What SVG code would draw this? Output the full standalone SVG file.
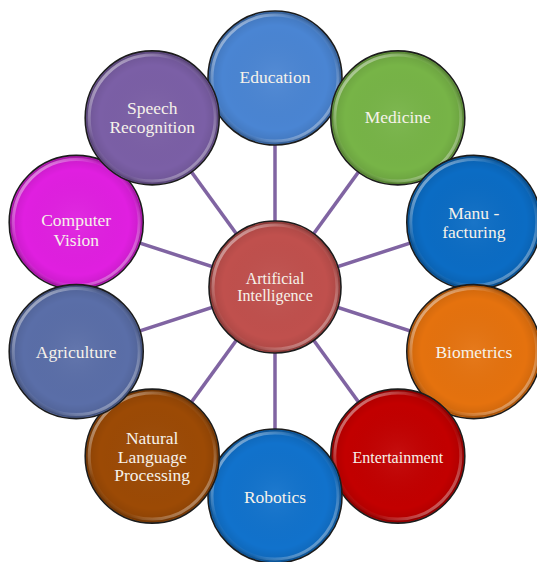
<svg xmlns="http://www.w3.org/2000/svg" width="537" height="562" viewBox="0 0 537 562">
<defs>
<radialGradient id="shade" cx="50%" cy="50%" r="50%">
<stop offset="0" stop-color="#fff" stop-opacity="0.06"/>
<stop offset="0.8" stop-color="#000" stop-opacity="0"/>
<stop offset="0.94" stop-color="#000" stop-opacity="0.08"/>
<stop offset="1" stop-color="#000" stop-opacity="0.3"/>
</radialGradient>
<linearGradient id="hl" x1="0" y1="0" x2="1" y2="1">
<stop offset="0" stop-color="#fff" stop-opacity="0.7"/>
<stop offset="0.35" stop-color="#fff" stop-opacity="0.04"/>
<stop offset="0.65" stop-color="#fff" stop-opacity="0.04"/>
<stop offset="1" stop-color="#fff" stop-opacity="0.55"/>
</linearGradient>
</defs>
<style>
.edge{stroke:#8064a2;stroke-width:3.5;fill:none}
.base{stroke:#1c1c1c;stroke-width:1.6}
.shade{fill:url(#shade)}
.hl{fill:none;stroke:url(#hl);stroke-width:3}
text{font-family:"Liberation Serif","Times New Roman",serif;font-size:17.5px;fill:#f6f2ea;text-anchor:middle}
</style>
<g id="connectors">
<line class="edge" x1="275" y1="287" x2="275" y2="78"/>
<line class="edge" x1="275" y1="287" x2="397.8" y2="117.9"/>
<line class="edge" x1="275" y1="287" x2="473.8" y2="222.4"/>
<line class="edge" x1="275" y1="287" x2="473.8" y2="351.6"/>
<line class="edge" x1="275" y1="287" x2="397.8" y2="456.1"/>
<line class="edge" x1="275" y1="287" x2="275" y2="496"/>
<line class="edge" x1="275" y1="287" x2="152.2" y2="456.1"/>
<line class="edge" x1="275" y1="287" x2="76.2" y2="351.6"/>
<line class="edge" x1="275" y1="287" x2="76.2" y2="222.4"/>
<line class="edge" x1="275" y1="287" x2="152.2" y2="117.9"/>
</g>
<g id="computer-vision" transform="translate(76.2,222.4)">
<circle class="base" r="67" fill="#e01fe0"/><circle class="shade" r="66"/><circle class="hl" r="63"/>
<text x="0" y="4">Computer</text><text x="0" y="24">Vision</text>
</g>
<g id="education" transform="translate(275,78)">
<circle class="base" r="67" fill="#4a85d3"/><circle class="shade" r="66"/><circle class="hl" r="63"/>
<text x="0" y="5">Education</text>
</g>
<g id="medicine" transform="translate(397.8,117.9)">
<circle class="base" r="67" fill="#77b447"/><circle class="shade" r="66"/><circle class="hl" r="63"/>
<text x="0" y="5">Medicine</text>
</g>
<g id="manufacturing" transform="translate(473.8,222.4)">
<circle class="base" r="67" fill="#0b6cc4"/><circle class="shade" r="66"/><circle class="hl" r="63"/>
<text x="0" y="-3">Manu -</text><text x="0" y="15.5">facturing</text>
</g>
<g id="biometrics" transform="translate(473.8,351.6)">
<circle class="base" r="67" fill="#e5720e"/><circle class="shade" r="66"/><circle class="hl" r="63"/>
<text x="0" y="6">Biometrics</text>
</g>
<g id="entertainment" transform="translate(397.8,456.1)">
<circle class="base" r="67" fill="#c20000"/><circle class="shade" r="66"/><circle class="hl" r="63"/>
<text x="0" y="7" style="font-size:16px">Entertainment</text>
</g>
<g id="robotics" transform="translate(275,496)">
<circle class="base" r="67" fill="#1172cc"/><circle class="shade" r="66"/><circle class="hl" r="63"/>
<text x="0" y="7">Robotics</text>
</g>
<g id="nlp" transform="translate(152.2,456.1)">
<circle class="base" r="67" fill="#9c4a05"/><circle class="shade" r="66"/><circle class="hl" r="63"/>
<text x="0" y="-12">Natural</text><text x="0" y="6.5">Language</text><text x="0" y="25">Processing</text>
</g>
<g id="agriculture" transform="translate(76.2,351.6)">
<circle class="base" r="67" fill="#5a6ea8"/><circle class="shade" r="66"/><circle class="hl" r="63"/>
<text x="0" y="6">Agriculture</text>
</g>
<g id="speech-recognition" transform="translate(152.2,117.9)">
<circle class="base" r="67" fill="#7b5fa6"/><circle class="shade" r="66"/><circle class="hl" r="63"/>
<text x="0" y="-3.5">Speech</text><text x="0" y="15">Recognition</text>
</g>
<g id="artificial-intelligence" transform="translate(275,287)">
<circle class="base" r="66" fill="#c0504d"/><circle class="shade" r="65"/><circle class="hl" r="62"/>
<text x="0" y="-3.5" style="font-size:16px">Artificial</text><text x="0" y="14" style="font-size:16px">Intelligence</text>
</g>
</svg>
